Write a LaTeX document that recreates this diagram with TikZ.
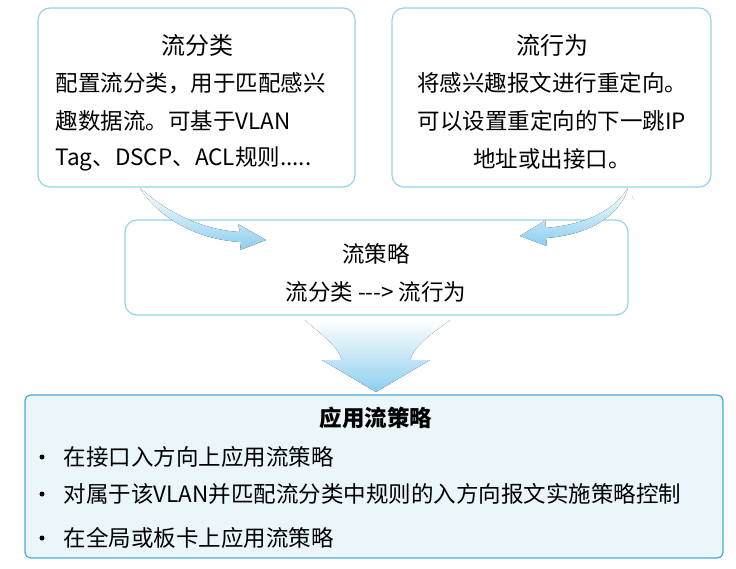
\documentclass[tikz,border=0pt]{standalone}
\usepackage{fontspec}
\setmainfont{Noto Sans CJK SC}
\usetikzlibrary{positioning}
\definecolor{boxline}{RGB}{150,210,235}
\definecolor{darkline}{RGB}{70,170,215}
\definecolor{softfill}{RGB}{235,246,251}
\definecolor{arrowblue}{RGB}{90,185,230}
\tikzstyle{pbox} = [rectangle, rounded corners=12pt, draw=boxline, line width=1.2pt, fill=white]
\tikzstyle{ptitle} = [font=\fontsize{24}{28}\selectfont]
\tikzstyle{ptext} = [font=\fontsize{22.5}{26}\selectfont]
\tikzstyle{pshade} = [top color=white, bottom color=arrowblue!70, draw=none]
\begin{document}
\begin{tikzpicture}[x=1pt, y=-1pt]
\useasboundingbox (0,0) rectangle (736,568);
% boxes
\draw[pbox] (38,8) rectangle (355,187);
\draw[pbox] (392,8) rectangle (711,187);
\draw[pbox] (125,220) rectangle (628,315);
\draw[rectangle, rounded corners=6pt, draw=darkline, line width=1.2pt, fill=softfill] (25,395) rectangle (723,558);
% curved arrows
\fill[pshade] (140,188) .. controls (170,215) and (205,230) .. (240,232) -- (238,224) -- (266,240) -- (240,250) -- (241,242) .. controls (200,240) and (160,220) .. (140,188) -- cycle;
\fill[pshade] (628,188) .. controls (610,215) and (580,225) .. (545,228) -- (546,220) -- (520,236) -- (547,246) -- (546,238) .. controls (590,235) and (620,215) .. (628,188) -- cycle;
\draw[arrowblue!60] (632,196) -- (634,200);
% big arrow
\fill[pshade] (305,320) -- (450,320) .. controls (430,335) and (415,345) .. (410,360) -- (430,360) -- (376,392) -- (322,360) -- (342,360) .. controls (337,345) and (322,335) .. (305,320) -- cycle;
% texts
\node (cls) [ptitle] at (197,45) {流分类};
\node (cls1) [ptext, anchor=west] at (52,83) {配置流分类，用于匹配感兴};
\node (cls2) [ptext, anchor=west] at (52,121) {趣数据流。可基于VLAN};
\node (cls3) [ptext, anchor=west] at (52,159) {Tag、DSCP、ACL规则.....};
\node (act) [ptitle] at (552,45) {流行为};
\node (act1) [ptext] at (552,83) {将感兴趣报文进行重定向。};
\node (act2) [ptext] at (552,121) {可以设置重定向的下一跳IP};
\node (act3) [ptext] at (552,159) {地址或出接口。};
\node (pol) [ptext] at (376,254) {流策略};
\node (pol1) [ptext] at (376,292) {流分类 {-}{-}{-}> 流行为};
\node (app) [ptext, font=\fontsize{22.5}{26}\selectfont\bfseries] at (376,418) {应用流策略};
\foreach \y/\t in {457/在接口入方向上应用流策略, 494/对属于该VLAN并匹配流分类中规则的入方向报文实施策略控制, 538/在全局或板卡上应用流策略} {
  \fill (42,\y) circle (2.5pt);
  \node[ptext, anchor=west] at (60,\y) {\t};
}
\end{tikzpicture}
\end{document}
